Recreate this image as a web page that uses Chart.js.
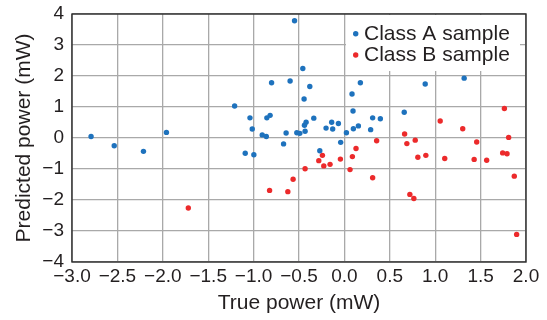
<!DOCTYPE html>
<html>
<head>
<meta charset="utf-8">
<script src="https://cdn.jsdelivr.net/npm/chart.js@4.4.1/dist/chart.umd.min.js"></script>
<style>
  html, body { margin: 0; padding: 0; background: #ffffff; }
  #wrap { width: 547px; height: 320px; position: relative; }
</style>
</head>
<body>
<div id="wrap"><canvas id="c" width="547" height="320"></canvas></div>
<script>
const seriesNames = ['Class A sample', 'Class B sample'];
const xTitle = 'True power (mW)';
const yTitle = 'Predicted power (mW)';
const xTickValues = [-3.0, -2.5, -2.0, -1.5, -1.0, -0.5, 0, 0.5, 1.0, 1.5, 2.0];
const yTickValues = [-4, -3, -2, -1, 0, 1, 2, 3, 4];

const classATrue = [-2.79, -2.535, -2.213, -1.96, -1.209, -1.092, -0.997, -1.04, -1.015, -0.905,
  -0.86, -0.854, -0.818, -0.802, -0.549, -0.458, -0.598, -0.381, -0.444, 0.084,
  0.176, 0.095, 0.89, 1.319, 0.659, -0.642, -0.524, -0.491, -0.44, -0.422,
  -0.433, -0.337, -0.67, -0.202, -0.14, -0.129, -0.066, -0.041, 0.022, 0.099,
  0.154, 0.289, 0.311, 0.396, -0.271];
const classAPred = [0.05, -0.25, -0.43, 0.18, 1.03, -0.49, -0.54, 0.65, 0.29, 0.10,
  0.05, 0.65, 0.73, 1.78, 3.78, 2.24, 1.84, 1.66, 1.26, 1.42,
  1.78, 0.87, 1.74, 1.93, 0.83, 0.16, 0.17, 0.15, 0.41, 0.51,
  0.22, 0.64, -0.19, 0.32, 0.51, 0.29, 0.47, -0.14, 0.17, 0.30,
  0.39, 0.27, 0.65, 0.62, -0.41];

const classBTrue = [-1.719, -0.824, -0.623, -0.565, -0.433, -0.282, -0.242, -0.227, -0.158, -0.044,
  0.062, 0.088, 0.128, 0.311, 0.355, 0.663, 0.688, 0.78, 0.809, 0.897,
  0.721, 0.765, 1.055, 1.105, 1.303, 1.429, 1.457, 1.567, 1.743, 1.791,
  1.762, 1.809, 1.871, 1.897];
const classBPred = [-2.26, -1.69, -1.73, -1.33, -0.99, -0.73, -0.56, -0.90, -0.85, -0.68,
  -1.02, -0.60, -0.34, -1.28, -0.09, 0.13, -0.18, -0.07, -0.62, -0.56,
  -1.82, -1.95, 0.55, -0.66, 0.30, -0.69, -0.13, -0.72, -0.48, -0.51,
  0.95, 0.02, -1.23, -3.11];

const blue = '#1e72bd';
const red = '#ec2a2b';
const textColor = '#231f20';
const fontFamily = '"Liberation Sans", Arial, Helvetica, sans-serif';

function toPoints(xs, ys) { return xs.map((x, i) => ({ x: x, y: ys[i] })); }
function fmt(v, d) { return v.toFixed(d).replace('-', '\u2212'); }

const frameAndLegend = {
  id: 'frameAndLegend',
  afterDraw(chart) {
    const ctx = chart.ctx;
    const a = chart.chartArea;
    ctx.save();
    const bx = a.left + 274, by = a.top + 1, bw = a.right - 6 - bx, bh = 56;
    ctx.fillStyle = '#ffffff';
    ctx.fillRect(bx, by, bw, bh);
    ctx.font = '21px ' + fontFamily;
    ctx.textBaseline = 'middle';
    ctx.textAlign = 'left';
    chart.data.datasets.forEach((ds, i) => {
      const cy = a.top + 19.7 + i * 21.3;
      ctx.fillStyle = ds.backgroundColor;
      ctx.beginPath();
      ctx.arc(bx + 9.7, cy, 2.7, 0, Math.PI * 2);
      ctx.fill();
      ctx.fillStyle = textColor;
      ctx.fillText(ds.label, bx + 18, cy + 0.5);
    });
    ctx.strokeStyle = '#2b2b2b';
    ctx.lineWidth = 1.4;
    ctx.strokeRect(a.left, a.top, a.right - a.left, a.bottom - a.top);
    ctx.restore();
  }
};

new Chart(document.getElementById('c'), {
  type: 'scatter',
  data: {
    datasets: [
      { label: seriesNames[0], data: toPoints(classATrue, classAPred), backgroundColor: blue, borderWidth: 0, pointRadius: 2.7, pointHoverRadius: 2.7 },
      { label: seriesNames[1], data: toPoints(classBTrue, classBPred), backgroundColor: red, borderWidth: 0, pointRadius: 2.7, pointHoverRadius: 2.7 }
    ]
  },
  options: {
    responsive: false,
    animation: false,
    devicePixelRatio: 1,
    layout: { padding: { left: 0, right: 21, top: 14, bottom: 0 } },
    plugins: { legend: { display: false }, tooltip: { enabled: false } },
    scales: {
      x: {
        type: 'linear', min: -3, max: 2,
        afterBuildTicks: s => { s.ticks = xTickValues.map(v => ({ value: v })); },
        afterFit: s => { s.height = 58; s.paddingLeft = 0; s.paddingRight = 0; },
        grid: { color: '#a9a9a9', lineWidth: 1.3, drawTicks: false, z: -1 },
        border: { display: false },
        ticks: { padding: 3, color: textColor, font: { family: fontFamily, size: 19 }, maxRotation: 0, autoSkip: false,
                 callback: v => fmt(v, 1) },
        title: { display: true, text: xTitle, color: textColor, font: { family: fontFamily, size: 21 }, padding: { top: 0, bottom: 4 } }
      },
      y: {
        type: 'linear', min: -4, max: 4,
        afterBuildTicks: s => { s.ticks = yTickValues.map(v => ({ value: v })); },
        afterFit: s => { s.width = 72; s.paddingTop = 0; s.paddingBottom = 0; },
        grid: { color: '#a9a9a9', lineWidth: 1.3, drawTicks: false, z: -1 },
        border: { display: false },
        ticks: { padding: 8, color: textColor, font: { family: fontFamily, size: 19 }, autoSkip: false,
                 callback: v => fmt(v, 0) },
        title: { display: true, text: yTitle, color: textColor, font: { family: fontFamily, size: 21 }, padding: { top: 12, bottom: 0 } }
      }
    }
  },
  plugins: [frameAndLegend]
});
</script>
</body>
</html>
